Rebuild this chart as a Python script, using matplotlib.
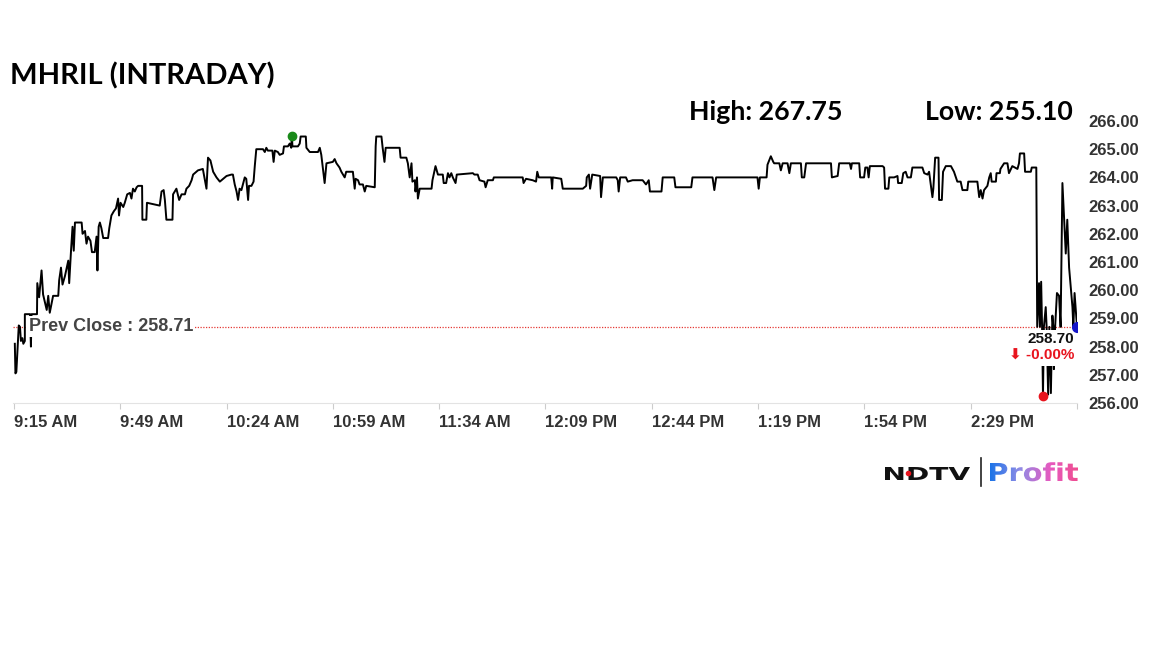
import numpy as np
import matplotlib.pyplot as plt
from matplotlib.lines import Line2D
from matplotlib.textpath import TextPath
from matplotlib.font_manager import FontProperties
from matplotlib.patches import PathPatch
from matplotlib.transforms import Affine2D

plt.rcParams['font.family'] = ['Liberation Sans', 'DejaVu Sans']

symbol = 'MHRIL'
day_high = 267.75
day_low = 255.10
prev_close = 258.71
last_price = 258.70
change_pct = -0.00

tick_minutes = [0, 35, 70, 105, 140, 175, 210, 245, 280, 315, 350]
tick_labels = ['9:15 AM', '9:49 AM', '10:24 AM', '10:59 AM', '11:34 AM', '12:09 PM',
               '12:44 PM', '1:19 PM', '1:54 PM', '2:29 PM', '']
y_ticks = [256, 257, 258, 259, 260, 261, 262, 263, 264, 265, 266]

# minutes after 9:15 and traded price
minutes = [0.3, 0.5, 0.8, 1.6, 2.0, 2.3, 2.8, 3.1, 3.6, 3.6, 5.3, 5.6, 5.8, 7.6, 7.7, 8.3, 9.1, 9.6,
           10.8, 11.3, 11.8, 12.9, 14.6, 14.9, 15.5, 16.0, 16.8, 17.9, 18.2, 18.8, 19.3, 19.7, 20.1,
           22.3, 22.6, 23.4, 23.9, 24.4, 25.2, 25.7, 26.6, 27.2, 27.5, 27.9, 28.3, 28.8, 29.4, 31.0,
           31.4, 32.1, 32.9, 33.6, 34.3, 34.6, 35.1, 36.0, 36.5, 37.3, 38.2, 38.7, 39.2, 39.8, 40.4,
           40.9, 42.2, 42.3, 43.6, 43.8, 48.0, 48.6, 49.3, 49.7, 50.2, 52.2, 52.4, 53.5, 54.4, 55.2,
           56.3, 56.8, 57.7, 58.5, 59.0, 60.6, 62.2, 63.4, 63.9, 64.7, 65.6, 66.7, 67.8, 68.9, 70.0,
           71.6, 72.1, 72.7, 73.3, 73.8, 74.3, 74.9, 76.0, 76.5, 77.1, 77.4, 78.2, 78.9, 79.3, 79.8,
           82.0, 82.6, 83.1, 83.6, 85.1, 85.5, 85.9, 86.9, 87.5, 88.6, 88.9, 90.2, 90.8, 91.3, 91.5,
           91.7, 93.5, 94.1, 94.4, 96.1, 96.3, 97.4, 100.1, 100.7, 101.2, 102.3, 102.9, 105.0, 105.6,
           106.2, 107.2, 107.8, 108.9, 109.4, 111.6, 112.2, 112.5, 113.3, 113.8, 114.9, 115.5, 116.0,
           118.8, 119.1, 119.3, 121.0, 121.4, 122.0, 122.4, 127.0, 127.3, 129.2, 129.7, 130.3, 130.9,
           131.2, 132.0, 132.2, 132.7, 133.0, 133.6, 137.5, 137.8, 138.8, 139.6, 141.2, 141.5, 142.3,
           142.9, 143.4, 144.0, 144.5, 145.4, 145.8, 151.1, 151.6, 152.7, 153.3, 154.9, 155.3, 156.0,
           157.7, 158.0, 167.5, 167.8, 168.6, 170.8, 171.9, 172.3, 172.8, 176.9, 177.2, 177.4, 180.2,
           180.7, 187.3, 188.4, 188.6, 189.3, 189.7, 190.4, 193.0, 193.3, 193.9, 198.3, 198.8, 199.1,
           199.6, 201.5, 202.1, 203.7, 207.0, 208.1, 209.0, 209.4, 213.2, 213.6, 217.4, 217.8, 223.0,
           223.4, 230.0, 230.6, 231.2, 244.8, 245.2, 245.6, 247.8, 248.1, 249.2, 250.0, 250.3, 252.0,
           252.5, 253.1, 254.7, 255.3, 255.8, 259.1, 259.4, 260.2, 260.8, 269.0, 269.3, 271.2, 271.7,
           275.2, 275.6, 275.9, 278.3, 278.6, 279.9, 280.3, 281.0, 281.4, 281.8, 286.0, 286.5, 286.8,
           287.9, 288.2, 289.8, 290.9, 291.1, 292.3, 292.8, 293.6, 294.2, 295.3, 295.8, 299.1, 299.7,
           300.8, 301.3, 302.4, 302.7, 303.3, 304.4, 304.6, 305.5, 305.9, 306.8, 308.5, 309.5, 310.6,
           311.7, 312.3, 313.9, 314.2, 317.2, 317.8, 318.3, 318.9, 319.4, 320.5, 321.1, 321.6, 321.9,
           323.3, 323.5, 324.6, 324.8, 326.0, 327.1, 327.6, 328.7, 330.4, 330.9, 331.2, 332.6, 332.9,
           334.8, 335.1, 336.6, 336.9, 337.5, 337.8, 338.2, 338.5, 338.8, 339.1, 339.7, 340.0, 340.5,
           340.9, 341.4, 341.9, 342.2, 342.4, 342.8, 343.4, 344.1, 344.6, 345.2, 346.3, 346.8, 347.4,
           348.5, 348.8, 349.2, 350.0]
prices = [258.1, 257.05, 257.1, 258.75, 258.7, 258.2, 258.3, 258.1, 258.2, 259.15, 259.15, 258.0,
          259.15, 259.15, 260.25, 259.75, 260.7, 259.85, 259.3, 259.8, 259.2, 259.8, 259.8, 260.35,
          260.8, 260.2, 260.5, 261.05, 260.25, 261.4, 262.25, 261.4, 262.4, 262.4, 262.0, 262.1,
          261.65, 261.9, 261.75, 261.35, 261.35, 261.9, 260.7, 262.25, 262.4, 262.2, 261.85, 261.85,
          262.2, 262.65, 262.8, 262.9, 263.25, 262.65, 263.1, 262.95, 263.1, 263.4, 263.45, 263.25,
          263.6, 263.5, 263.65, 263.7, 263.7, 262.5, 262.5, 263.1, 263.0, 263.5, 263.55, 263.2, 262.5,
          262.5, 263.4, 263.6, 263.2, 263.4, 263.4, 263.6, 263.7, 263.9, 264.1, 264.25, 264.3, 263.6,
          264.7, 264.6, 264.2, 264.0, 263.85, 263.95, 264.05, 264.1, 264.1, 263.75, 263.5, 263.2,
          263.6, 263.55, 264.0, 263.95, 263.2, 263.7, 263.7, 263.85, 264.4, 265.0, 265.0, 264.9,
          265.05, 264.95, 264.95, 264.55, 264.95, 264.9, 264.8, 264.85, 265.1, 265.1, 265.2, 265.05,
          265.47, 265.1, 265.1, 265.2, 265.45, 265.45, 265.05, 264.9, 264.9, 265.05, 264.8, 263.8,
          264.5, 264.55, 264.65, 264.5, 264.35, 264.2, 264.0, 264.2, 264.2, 263.6, 263.95, 263.9,
          263.75, 263.75, 263.5, 263.7, 263.65, 265.1, 265.45, 265.45, 265.05, 264.55, 265.05, 265.05,
          264.7, 264.7, 264.5, 264.0, 264.5, 263.85, 263.9, 263.5, 264.0, 263.25, 263.6, 263.6, 263.9,
          264.4, 264.1, 264.1, 263.8, 263.8, 264.15, 264.0, 264.15, 264.0, 263.8, 264.1, 264.15,
          264.1, 264.1, 263.9, 263.85, 263.65, 263.9, 263.9, 264.0, 264.0, 263.8, 263.95, 263.9,
          263.85, 264.2, 264.0, 264.0, 263.6, 264.0, 263.95, 263.6, 263.6, 263.7, 264.0, 264.1, 263.6,
          264.1, 264.05, 263.3, 264.0, 264.0, 263.9, 263.5, 264.0, 264.0, 263.85, 263.9, 263.9,
          263.75, 263.9, 263.5, 263.5, 264.0, 264.0, 263.65, 263.65, 264.0, 264.0, 263.55, 264.0,
          264.0, 263.6, 264.0, 264.0, 264.45, 264.75, 264.55, 264.5, 264.5, 264.25, 264.5, 264.5,
          264.15, 264.5, 264.5, 264.0, 264.0, 264.5, 264.5, 264.0, 264.05, 264.5, 264.5, 264.3,
          264.5, 264.5, 264.0, 264.0, 264.35, 264.35, 264.0, 264.4, 264.4, 264.35, 263.6, 263.6,
          264.0, 264.0, 264.05, 263.8, 263.8, 264.15, 264.2, 264.0, 264.0, 264.35, 264.35, 264.15,
          264.1, 264.2, 263.3, 263.6, 264.7, 264.7, 263.2, 263.2, 264.2, 264.4, 264.4, 264.2, 263.85,
          263.85, 263.55, 263.55, 263.85, 263.85, 263.3, 263.55, 263.25, 263.55, 263.7, 264.0, 264.15,
          263.85, 263.85, 264.15, 264.15, 264.3, 264.5, 264.5, 264.15, 264.4, 264.3, 264.5, 264.85,
          264.85, 264.2, 264.2, 264.35, 264.35, 258.7, 260.25, 258.7, 260.3, 258.7, 256.25, 258.7,
          259.4, 258.7, 256.3, 258.7, 256.35, 259.1, 258.7, 257.2, 258.7, 259.9, 259.8, 258.7, 263.8,
          261.3, 262.5, 260.8, 259.4, 258.7, 259.9, 258.7]

fig = plt.figure(figsize=(11.52, 6.48), dpi=100)
ax = fig.add_axes([13 / 1152, 1 - 403 / 648, 1064 / 1152, 282 / 648])

ax.plot(minutes, prices, color='black', lw=1.4, zorder=3)
ax.axhline(prev_close, color='#e53935', lw=0.9, ls=(0, (1, 1.2)), zorder=2)

hi = prices.index(max(prices))
lo = prices.index(min(prices))
ax.plot(minutes[hi], prices[hi], 'o', color='#1a8a1a', ms=6, zorder=6)
ax.plot(minutes[lo], prices[lo], 'o', color='#e8141e', ms=6, zorder=6)
ax.plot(minutes[-1], prices[-1], 'o', color='#1515c8', ms=7, zorder=6)

ax.set_xlim(-0.3, 350)
ax.set_ylim(256, 266)
for s in ['top', 'left', 'right']:
    ax.spines[s].set_visible(False)
ax.spines['bottom'].set_color('#e3e3e3')

ax.set_xticks(tick_minutes)
ax.set_xticklabels(tick_labels, ha='left', fontsize=12, fontweight='bold', color='#333333')
ax.tick_params(axis='x', length=4, color='#cccccc', pad=4.5)

ax.yaxis.tick_right()
ax.set_yticks(y_ticks)
ax.set_yticklabels([f'{v:.2f}' for v in y_ticks], fontsize=12, fontweight='bold', color='#333333')
ax.tick_params(axis='y', length=0, pad=8)

ax.text(4.9, prev_close, f'Prev Close : {prev_close:.2f}', fontsize=13, fontweight='bold',
        color='#444444', va='center', ha='left', zorder=5,
        bbox=dict(facecolor='white', edgecolor='none', pad=1.5))

ax.annotate(f'{last_price:.2f}', (minutes[-1], last_price), xytext=(-2, -9),
            textcoords='offset points', ha='right', va='center', fontsize=11,
            fontweight='bold', color='#111111', zorder=5,
            bbox=dict(facecolor='white', edgecolor='none', pad=2))
ax.annotate(f'\u2b07 {change_pct:.2f}%', (minutes[-1], last_price), xytext=(-2, -21),
            textcoords='offset points', ha='right', va='center', fontsize=11,
            fontweight='bold', color='#e8141e', zorder=5,
            bbox=dict(facecolor='white', edgecolor='none', pad=2))

fig.text(10 / 1152, 1 - 76 / 648, f'{symbol} (INTRADAY)', fontsize=21, fontweight='bold',
         family='Lato', va='center', ha='left')
fig.text(689 / 1152, 1 - 112 / 648, f'High: {day_high:.2f}', fontsize=19.3, fontweight='bold',
         family='Lato', va='center', ha='left')
fig.text(925 / 1152, 1 - 112 / 648, f'Low: {day_low:.2f}', fontsize=19.3, fontweight='bold',
         family='Lato', va='center', ha='left')


# logo: text outlines stretched to the logo's width, in pixel coordinates
def logo_word(word, left, baseline, cap, width, **kw):
    fp = FontProperties(family='DejaVu Sans', weight='bold')
    tp = TextPath((0, 0), word, size=cap / 0.729, prop=fp)
    ext = tp.get_extents()
    tr = Affine2D().translate(-ext.x0, 0).scale(width / ext.width, 1).translate(left, 648 - baseline)
    patch = PathPatch(tp, transform=tr, lw=0, **kw)
    return patch


fig.add_artist(logo_word('NDTV', 885, 480, 13, 85, facecolor='#111111'))
fig.add_artist(Line2D([908 / 1152], [1 - 473 / 648], marker='o', ms=3, color='#e8141e', lw=0))
fig.add_artist(Line2D([981 / 1152, 981 / 1152], [1 - 458 / 648, 1 - 486 / 648],
                      color='#222222', lw=1.2))

profit = logo_word('Profit', 990, 481, 18, 88, facecolor='none')
grad_stops = np.array([[0x1a, 0x73, 0xe8], [0x8f, 0x8c, 0xe6], [0xe6, 0x5a, 0xc0], [0xf0, 0x4c, 0x8c]]) / 255
pos = np.linspace(0, 1, 92)
cols = np.stack([np.interp(pos, np.linspace(0, 1, 4), grad_stops[:, c]) for c in range(3)], axis=1)
grad = np.tile(cols[None, :, :], (36, 1, 1))
im = fig.figimage(grad, xo=989, yo=648 - 490, origin='lower', zorder=5)
im.set_clip_path(profit)

fig.savefig('out.png', dpi=100, facecolor='white')
